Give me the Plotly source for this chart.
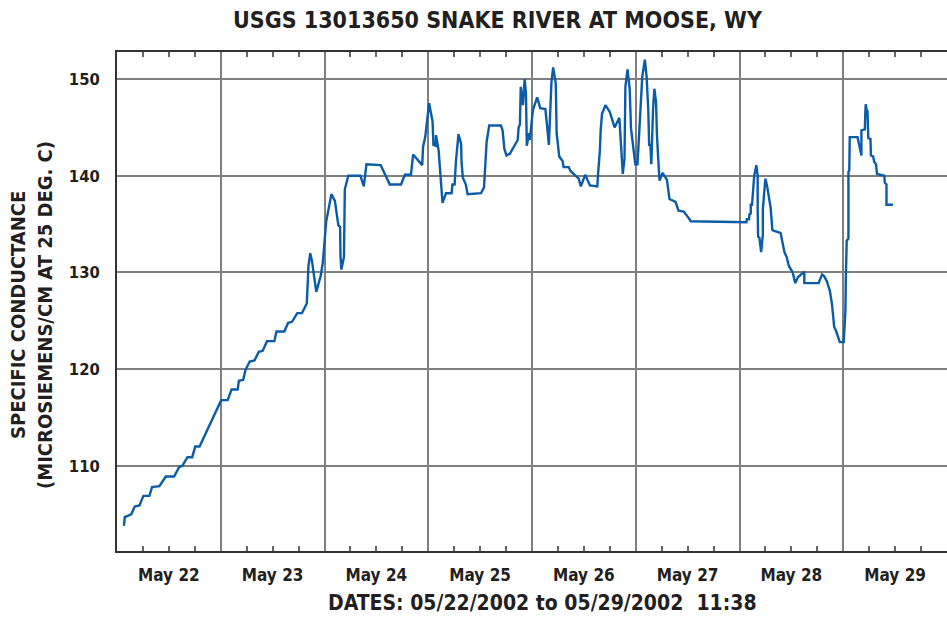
import pandas as pd
import plotly.graph_objects as go

# elapsed hours since 2002-05-22 00:00 and specific conductance readings
hours = [
    1.6, 1.8, 3.3, 4.1, 5.2, 6.1, 7.5, 8.1, 9.8, 11.3, 13.2, 14.4, 15.1, 16.3, 17.4, 18.1, 19.1,
    24.1, 25.6, 26.5, 27.9, 28.2, 29.2, 29.7, 30.7, 31.8, 32.8, 33.7, 34.7, 36.4, 36.9, 38.7,
    39.6, 40.5, 41.7, 42.8, 43.9, 44.0, 44.3, 44.7, 45.1, 46.1, 47.1, 47.6, 48.4, 49.6, 50.4,
    51.2, 51.6, 51.7, 51.9, 52.5, 52.7, 53.5, 56.3, 57.1, 57.7, 61.0, 63.1, 65.7, 66.6, 68.0,
    68.5, 70.6, 70.8, 71.3, 72.2, 73.0, 73.2, 73.7, 73.8, 74.4, 75.3, 76.1, 77.4, 77.6, 78.1,
    78.4, 79.0, 79.6, 79.7, 80.0, 80.7, 81.1, 84.2, 84.9, 85.1, 85.5, 86.1, 88.8, 89.2, 89.6,
    90.1, 90.9, 92.7, 92.9, 93.2, 93.4, 93.9, 94.3, 94.6, 94.8, 95.3, 95.5, 96.2, 97.2, 97.9,
    99.1, 99.5, 99.9, 100.5, 100.9, 101.5, 101.7, 102.3, 103.1, 103.3, 104.5, 104.9, 106.3,
    106.8, 107.3, 108.3, 109.4, 111.1, 111.3, 111.7, 111.9, 112.2, 113.0, 114.0, 115.1, 116.2,
    116.4, 116.7, 117.0, 117.4, 117.6, 118.1, 118.6, 118.9, 119.5, 119.9, 120.4, 120.9, 121.5,
    122.1, 122.5, 122.9, 123.1, 123.4, 123.6, 124.0, 124.3, 124.7, 124.9, 125.3, 125.5, 126.2,
    126.8, 127.2, 127.8, 129.2, 129.9, 131.1, 132.3, 132.7, 145.6, 145.7, 146.2, 146.3, 146.6,
    146.6, 146.9, 147.4, 147.9, 148.2, 148.2, 148.3, 148.6, 149.0, 149.4, 149.4, 149.7, 150.0,
    150.4, 150.8, 151.2, 151.6, 152.0, 153.5, 153.8, 154.4, 154.9, 155.4, 156.3, 156.9, 157.5,
    159.0, 159.0, 162.3, 163.1, 163.6, 164.2, 164.9, 165.4, 165.7, 165.9, 166.3, 166.9, 167.2,
    168.1, 168.5, 168.6, 168.8, 169.2, 169.2, 169.4, 169.5, 171.3, 171.7, 172.2, 172.2, 173.0,
    173.1, 173.2, 173.5, 173.6, 173.8, 174.3, 174.4, 174.9, 175.2, 175.6, 175.8, 177.5, 177.6,
    178.0, 178.0, 179.5,
]
conductance = [
    103.8, 104.7, 105.0, 105.8, 105.9, 106.9, 106.9, 107.8, 107.9, 108.9, 108.9, 109.9, 110.0,
    110.9, 110.9, 112.0, 112.0,
    116.8, 116.8, 117.9, 117.9, 118.8, 118.9, 119.9, 120.8, 120.9, 121.8, 121.9, 122.9, 122.9,
    123.9, 123.9, 124.8, 124.9, 125.8, 125.8, 126.8, 128.2, 130.7, 132.0, 131.2, 128.0, 129.6,
    131.0, 135.3, 138.1, 137.4, 134.9, 134.7, 131.7, 130.3, 131.6, 138.6, 140.0, 140.0, 138.9,
    141.2, 141.1, 139.1, 139.1, 140.1, 140.1, 142.2, 141.1, 143.0, 144.0, 147.5, 145.6, 143.2,
    143.1, 144.2, 142.6, 137.2, 138.2, 138.2, 139.1, 139.1, 141.5, 144.3, 143.3, 141.4, 139.8,
    139.1, 138.1, 138.2, 138.8, 140.2, 143.5, 145.2, 145.2, 144.7, 142.8, 142.1, 142.3, 143.7,
    145.0, 145.3, 149.2, 147.3, 150.0, 148.5, 143.1, 144.4, 143.7, 146.8, 148.1, 147.0, 146.9,
    145.1, 143.2, 149.7, 151.2, 149.5, 144.4, 142.0, 141.5, 140.9, 140.9, 140.5, 139.9, 139.7,
    138.9, 140.1, 139.0, 138.9, 140.3, 142.6, 144.8, 146.4, 147.3, 146.6, 145.0, 146.0, 144.6,
    141.7, 140.2, 141.8, 149.2, 151.0, 149.0, 144.9, 142.5, 141.2, 141.2, 145.0, 150.2, 152.0,
    150.3, 146.8, 143.2, 143.2, 141.2, 146.8, 149.0, 147.6, 144.2, 141.0, 139.5, 140.3, 139.8,
    139.6, 137.6, 137.3, 136.4, 136.3, 135.6, 135.3, 135.2, 135.5, 135.5, 136.0, 136.1, 137.0,
    137.0, 140.0, 141.1, 140.0, 136.7, 133.7, 133.6, 132.1, 133.9, 136.5, 138.2, 139.7, 138.9,
    137.9, 136.7, 134.4, 134.3, 134.1, 133.3, 132.1, 131.6, 130.7, 130.0, 128.9, 129.5, 130.1,
    128.9, 128.9, 129.8, 129.6, 129.1, 128.1, 126.7, 125.3, 124.4, 124.0, 123.2, 122.8, 122.8,
    126.0, 129.5, 133.3, 133.5, 140.4, 140.6, 144.0, 144.0, 143.2, 142.1, 144.7, 144.8, 146.5,
    147.4, 146.5, 146.8, 143.9, 143.8, 142.1, 142.0, 141.4, 141.2, 140.2, 140.0, 139.3, 139.1,
    137.0, 137.0,
]
y_ticks = [110, 120, 130, 140, 150]

start = pd.Timestamp("2002-05-22 00:00")
times = start + pd.to_timedelta(hours, unit="h")

FONT = "DejaVu Sans Condensed, DejaVu Sans, sans-serif"
INK = "#231f20"
GRID = "#7f7f7f"

fig = go.Figure(go.Scatter(
    x=times, y=conductance, mode="lines",
    line=dict(color="#0b5ca8", width=2.4),
    hoverinfo="skip",
))

fig.update_layout(
    width=947, height=617,
    margin=dict(l=117, r=0, t=52, b=66),
    plot_bgcolor="white", paper_bgcolor="white",
    showlegend=False,
    font=dict(family=FONT, size=17, color=INK, weight="bold"),
)

fig.update_xaxes(
    range=["2002-05-22", "2002-05-30"],
    type="date", automargin=False,
    tick0="2002-05-22", dtick=86400000,
    tickformat="%b %d", ticklabelmode="period",
    ticks="inside", ticklen=0,
    showgrid=True, gridcolor=GRID, gridwidth=2,
    showline=True, linecolor="#333333", linewidth=1.8, mirror="ticks",
    minor=dict(dtick=6 * 3600 * 1000, ticks="inside", ticklen=5, tickcolor="#666666",
               tickwidth=1.6, showgrid=False),
    tickfont=dict(size=17),
    ticklabelstandoff=8,
    zeroline=False,
)
fig.update_yaxes(
    range=[101.2, 152.8],
    tickvals=y_ticks, automargin=False,
    showgrid=True, gridcolor=GRID, gridwidth=2,
    showline=True, linecolor="#333333", linewidth=1.8, mirror=False,
    ticks="", tickfont=dict(size=16.5),
    ticklabelstandoff=12,
    zeroline=False,
)

fig.add_annotation(
    text="USGS 13013650 SNAKE RIVER AT MOOSE, WY",
    xref="paper", yref="paper", x=0.459, y=1, yshift=32,
    xanchor="center", yanchor="middle", showarrow=False,
    font=dict(size=23),
)
fig.add_annotation(
    text="DATES: 05/22/2002 to 05/29/2002 \u00a011:38",
    xref="paper", yref="paper", x=0.513, y=0, yshift=-52,
    xanchor="center", yanchor="middle", showarrow=False,
    font=dict(size=21),
)
fig.add_annotation(
    text="SPECIFIC CONDUCTANCE",
    xref="paper", yref="paper", x=0, xshift=-99, y=0.473,
    xanchor="center", yanchor="middle", showarrow=False, textangle=-90,
    font=dict(size=20),
)
fig.add_annotation(
    text="(MICROSIEMENS/CM AT 25 DEG. C)",
    xref="paper", yref="paper", x=0, xshift=-72, y=0.473,
    xanchor="center", yanchor="middle", showarrow=False, textangle=-90,
    font=dict(size=20),
)

# drop the browser's default page margin so the figure sits at the window corner
fig.write_html(
    "out.html",
    config={"displayModeBar": False},
    post_script="document.body.style.margin = '0';",
)
